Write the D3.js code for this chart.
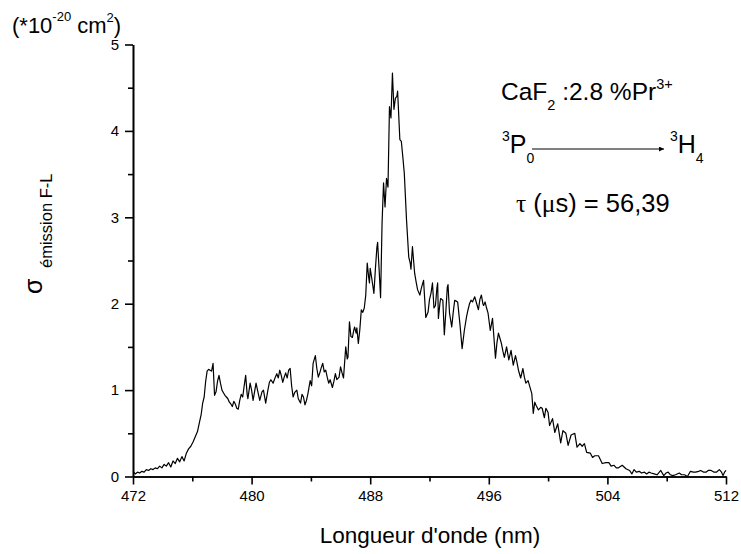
<!DOCTYPE html>
<html lang="en">
<head>
    <meta charset="UTF-8">
    <title>Section efficace d'émission CaF2:Pr3+</title>
    <script src="https://d3js.org/d3.v7.min.js"></script>
    <style>
        body { margin: 0; background: #fff; }
        svg { font-family: "Liberation Sans", Arial, sans-serif; }
        .axis path, .axis line { stroke: #000; stroke-width: 1.6; }
        .axis text { font-size: 15px; fill: #000; font-family: "Liberation Sans", Arial, sans-serif; }
        .spectrum { fill: none; stroke: #000; stroke-width: 1.2; stroke-linejoin: round; }
    </style>
</head>
<body>
<div id="chart"></div>
<script>
    // Wavelengths (nm) and emission cross-section (x 1e-20 cm2)
    const wavelength = [
        472.0, 472.15, 472.3, 472.45, 472.6, 472.75, 472.9, 473.05, 473.2, 473.35,
        473.5, 473.65, 473.8, 473.95, 474.1, 474.25, 474.4, 474.55, 474.7, 474.85,
        475.0, 475.15, 475.3, 475.45, 475.6, 475.75, 475.9, 476.05, 476.2, 476.35,
        476.5, 476.6, 476.7, 476.8, 476.9, 477.0, 477.1, 477.2, 477.3, 477.4,
        477.5, 477.6, 477.7, 477.8, 477.9, 478.0, 478.1, 478.2, 478.3, 478.4,
        478.5, 478.6, 478.7, 478.8, 478.9, 479.0, 479.1, 479.2, 479.3, 479.4,
        479.5, 479.6, 479.7, 479.75, 479.9, 480.0, 480.1, 480.3, 480.4, 480.55,
        480.7, 480.8, 480.95, 481.1, 481.2, 481.3, 481.45, 481.6, 481.7, 481.8,
        481.9, 482.0, 482.1, 482.2, 482.3, 482.4, 482.5, 482.6, 482.7, 482.8,
        482.9, 483.05, 483.15, 483.3, 483.4, 483.5, 483.6, 483.7, 483.8, 483.95,
        484.05, 484.15, 484.3, 484.4, 484.5, 484.6, 484.7, 484.8, 484.9, 485.0,
        485.1, 485.2, 485.3, 485.45, 485.55, 485.65, 485.75, 485.9, 486.0, 486.1,
        486.2, 486.35, 486.45, 486.5, 486.6, 486.7, 486.8, 486.9, 486.95, 487.05,
        487.1, 487.2, 487.3, 487.4, 487.5, 487.6, 487.7, 487.8, 487.9, 487.95,
        488.0, 488.1, 488.25, 488.35, 488.45, 488.5, 488.6, 488.7, 488.8, 488.9,
        489.0, 489.1, 489.2, 489.3, 489.4, 489.5, 489.6, 489.7, 489.8, 489.85,
        490.0, 490.1, 490.2, 490.3, 490.45, 490.6, 490.7, 490.75, 490.85, 490.95,
        491.0, 491.1, 491.2, 491.35, 491.45, 491.6, 491.75, 491.85, 491.9, 492.0,
        492.1, 492.2, 492.3, 492.4, 492.5, 492.55, 492.6, 492.7, 492.75, 492.9,
        493.0, 493.1, 493.2, 493.25, 493.35, 493.5, 493.6, 493.7, 493.8, 493.9,
        494.05, 494.2, 494.35, 494.5, 494.6, 494.7, 494.8, 494.9, 495.05, 495.15,
        495.3, 495.4, 495.5, 495.6, 495.65, 495.75, 495.85, 495.95, 496.1, 496.25,
        496.35, 496.45, 496.55, 496.65, 496.75, 496.85, 496.95, 497.05, 497.2, 497.35,
        497.5, 497.65, 497.8, 497.9, 498.0, 498.15, 498.3, 498.4, 498.5, 498.65,
        498.8, 498.9, 499.0, 499.1, 499.2, 499.35, 499.5, 499.6, 499.75, 499.85,
        500.0, 500.1, 500.3, 500.45, 500.65, 500.85, 501.0, 501.2, 501.35, 501.55,
        501.8, 501.95, 502.15, 502.3, 502.45, 502.6, 502.85, 503.0, 503.15, 503.4,
        503.65, 503.9, 504.1, 504.25, 504.45, 504.6, 504.75, 505.0, 505.25, 505.5,
        505.65, 505.8, 505.95, 506.15, 506.3, 506.5, 506.65, 506.8, 506.95, 507.15,
        507.35, 507.6, 507.8, 507.95, 508.1, 508.25, 508.4, 508.6, 508.85, 509.0,
        509.2, 509.4, 509.6, 509.8, 509.95, 510.15, 510.3, 510.5, 510.65, 510.8,
        511.0, 511.2, 511.35, 511.55, 511.7, 511.8, 511.9, 512.0
    ];
    const sigma = [
        0.06, 0.03, 0.05, 0.04, 0.06, 0.05, 0.08, 0.07, 0.09, 0.08,
        0.10, 0.09, 0.12, 0.10, 0.14, 0.12, 0.16, 0.11, 0.18, 0.15,
        0.21, 0.17, 0.23, 0.18, 0.27, 0.32, 0.35, 0.40, 0.46, 0.52,
        0.64, 0.72, 0.85, 0.92, 1.10, 1.22, 1.24, 1.23, 1.22, 1.31,
        0.94, 0.98, 1.10, 1.17, 1.08, 1.00, 0.97, 0.94, 0.92, 0.90,
        0.86, 0.84, 0.81, 0.87, 0.84, 0.79, 0.78, 0.88, 0.95, 0.92,
        1.05, 1.17, 0.95, 0.90, 1.08, 1.00, 0.88, 1.08, 1.00, 0.88,
        0.98, 1.00, 0.85, 1.00, 1.09, 1.12, 1.08, 1.15, 1.19, 1.14,
        1.23, 1.17, 1.09, 1.15, 1.20, 1.14, 1.23, 1.25, 1.05, 0.92,
        0.97, 1.00, 0.90, 0.85, 0.95, 0.92, 0.83, 0.88, 0.96, 1.11,
        1.05, 1.31, 1.40, 1.25, 1.15, 1.20, 1.26, 1.31, 1.21, 1.23,
        1.15, 1.08, 1.12, 1.03, 1.10, 1.19, 1.12, 1.15, 1.27, 1.20,
        1.14, 1.50, 1.36, 1.38, 1.79, 1.62, 1.61, 1.70, 1.73, 1.66,
        1.72, 1.54, 1.70, 1.93, 1.90, 1.95, 2.10, 2.47, 2.30, 2.24,
        2.41, 2.30, 2.12, 2.40, 2.65, 2.71, 2.40, 2.07, 2.93, 3.40,
        3.12, 3.45, 3.35, 4.28, 4.15, 4.67, 4.25, 4.38, 4.40, 4.46,
        3.90, 3.88, 3.70, 3.51, 2.97, 2.54, 2.47, 2.40, 2.66, 2.45,
        2.35, 2.25, 2.16, 2.10, 2.18, 2.27, 1.84, 1.88, 1.90, 2.05,
        2.12, 2.24, 1.95, 1.98, 2.18, 2.24, 1.83, 2.00, 2.06, 2.04,
        1.64, 1.90, 2.19, 2.22, 1.89, 1.73, 1.90, 2.04, 2.03, 2.02,
        1.77, 1.48, 1.69, 1.85, 1.93, 2.00, 2.04, 2.02, 2.08, 2.02,
        1.93, 2.05, 2.10, 2.00, 1.98, 2.02, 1.95, 1.89, 1.69, 1.83,
        1.60, 1.37, 1.55, 1.66, 1.60, 1.54, 1.45, 1.38, 1.50, 1.35,
        1.46, 1.29, 1.40, 1.32, 1.23, 1.14, 1.25, 1.15, 1.08, 1.11,
        1.02, 0.96, 0.73, 0.86, 0.82, 0.77, 0.80, 0.79, 0.68, 0.79,
        0.74, 0.59, 0.67, 0.51, 0.61, 0.39, 0.53, 0.50, 0.36, 0.48,
        0.50, 0.34, 0.38, 0.35, 0.38, 0.28, 0.27, 0.22, 0.24, 0.24,
        0.15, 0.16, 0.16, 0.12, 0.13, 0.10, 0.10, 0.13, 0.09, 0.07,
        0.03, 0.08, 0.05, 0.06, 0.04, 0.05, 0.03, 0.05, 0.04, 0.03,
        0.02, 0.07, 0.01, 0.04, 0.05, 0.02, 0.01, 0.02, 0.04, 0.02,
        0.02, 0.00, 0.06, 0.05, 0.05, 0.06, 0.07, 0.05, 0.05, 0.07,
        0.07, 0.05, 0.05, 0.08, 0.05, 0.01, 0.05, 0.07
    ];
    const xMajorTicks = [472, 480, 488, 496, 504, 512];
    const xMinorTicks = [476, 484, 492, 500, 508];
    const yMajorTicks = [0, 1, 2, 3, 4, 5];
    const yMinorTicks = [0.5, 1.5, 2.5, 3.5, 4.5];

    const width = 741, height = 554;

    const svg = d3.select("#chart")
        .append("svg")
        .attr("width", width)
        .attr("height", height);

    const x = d3.scaleLinear().domain([472, 512]).range([133, 726]);
    const y = d3.scaleLinear().domain([0, 5]).range([476.5, 44.5]);

    // Axes: minor ticks first, then major ticks with labels
    svg.append("g")
        .attr("class", "axis")
        .attr("transform", `translate(0,${y(0)})`)
        .call(d3.axisBottom(x).tickValues(xMinorTicks).tickSize(5).tickSizeOuter(0).tickFormat(""));
    svg.append("g")
        .attr("class", "axis")
        .attr("transform", `translate(0,${y(0)})`)
        .call(d3.axisBottom(x).tickValues(xMajorTicks).tickSize(8).tickSizeOuter(0).tickPadding(6).tickFormat(d3.format("d")));

    svg.append("g")
        .attr("class", "axis")
        .attr("transform", `translate(${x(472)},0)`)
        .call(d3.axisLeft(y).tickValues(yMinorTicks).tickSize(5).tickSizeOuter(0).tickFormat(""));
    svg.append("g")
        .attr("class", "axis")
        .attr("transform", `translate(${x(472)},0)`)
        .call(d3.axisLeft(y).tickValues(yMajorTicks).tickSize(8).tickSizeOuter(0).tickPadding(6).tickFormat(d3.format("d")));

    // Spectrum
    const points = wavelength.map((w, i) => ({wl: w, s: sigma[i]}));
    const line = d3.line()
        .x(d => x(d.wl))
        .y(d => y(d.s));
    svg.append("path")
        .datum(points)
        .attr("class", "spectrum")
        .attr("d", line);

    // X axis title
    svg.append("text")
        .attr("x", 430)
        .attr("y", 543)
        .attr("text-anchor", "middle")
        .style("font-size", "22.5px")
        .text("Longueur d'onde (nm)");

    // Unit above the y axis
    const unit = svg.append("text")
        .attr("x", 12)
        .attr("y", 33)
        .style("font-size", "22px");
    unit.append("tspan").text("(*10");
    unit.append("tspan").attr("dy", -12).style("font-size", "13px").text("-20");
    unit.append("tspan").attr("dy", 12).text(" cm");
    unit.append("tspan").attr("dy", -11).style("font-size", "13px").text("2");
    unit.append("tspan").attr("dy", 11).text(")");

    // Y axis title (rotated)
    const yTitle = svg.append("text")
        .attr("transform", "translate(42,294) rotate(-90)")
        .style("font-size", "25px");
    yTitle.append("tspan").text("σ");
    yTitle.append("tspan").attr("x", 26).attr("dy", 10).style("font-size", "16.5px").text("émission F-L");

    // Annotations
    const ann1 = svg.append("text")
        .attr("x", 501)
        .attr("y", 100)
        .style("font-size", "24.5px");
    ann1.append("tspan").text("CaF");
    ann1.append("tspan").attr("dy", 10).style("font-size", "14.5px").text("2");
    ann1.append("tspan").attr("dy", -10).text(" :2.8 %Pr");
    ann1.append("tspan").attr("dy", -11).style("font-size", "14.5px").text("3+");

    const ann2 = svg.append("text")
        .attr("x", 502)
        .attr("y", 153)
        .style("font-size", "25px");
    ann2.append("tspan").attr("dy", -12).style("font-size", "14px").text("3");
    ann2.append("tspan").attr("dy", 12).text("P");
    ann2.append("tspan").attr("dy", 10).style("font-size", "14px").text("0");

    const ann3 = svg.append("text")
        .attr("x", 670)
        .attr("y", 153)
        .style("font-size", "25px");
    ann3.append("tspan").attr("dy", -12).style("font-size", "14px").text("3");
    ann3.append("tspan").attr("dy", 12).text("H");
    ann3.append("tspan").attr("dy", 10).style("font-size", "14px").text("4");

    svg.append("defs").append("marker")
        .attr("id", "arrow")
        .attr("viewBox", "0 0 10 10")
        .attr("refX", 10)
        .attr("refY", 5)
        .attr("markerWidth", 8)
        .attr("markerHeight", 5)
        .attr("orient", "auto")
        .attr("markerUnits", "userSpaceOnUse")
        .append("path")
        .attr("d", "M0,0 L10,5 L0,10 Z")
        .attr("fill", "#000");

    svg.append("line")
        .attr("x1", 532).attr("y1", 149)
        .attr("x2", 664).attr("y2", 149)
        .attr("stroke", "#000")
        .attr("stroke-width", 1)
        .attr("marker-end", "url(#arrow)");

    const ann4 = svg.append("text")
        .attr("x", 516)
        .attr("y", 212)
        .style("font-size", "25.5px");
    ann4.append("tspan").style("font-family", "'Liberation Serif', serif").text("τ");
    ann4.append("tspan").text(" (");
    ann4.append("tspan").style("font-family", "'Liberation Serif', serif").text("μ");
    ann4.append("tspan").text("s) = 56,39");
</script>
</body>
</html>
